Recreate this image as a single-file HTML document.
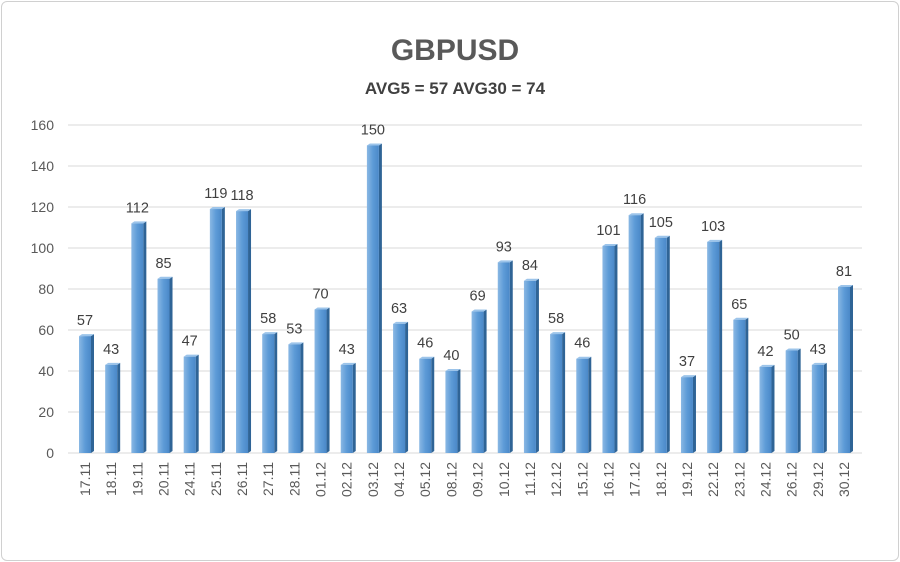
<!DOCTYPE html>
<html><head><meta charset="utf-8"><style>
body{margin:0;background:#fff;font-family:"Liberation Sans",sans-serif}
#frame{position:absolute;left:1px;top:1px;width:896px;height:558px;border:1px solid #d0d0d0;border-radius:6px}
</style></head><body>
<div id="frame"></div>
<svg id="c" width="900" height="562" style="position:absolute;left:0;top:0">
<defs>
<linearGradient id="g" x1="0" x2="1" y1="0" y2="0"><stop offset="0" stop-color="#8ab8e4"/><stop offset="0.5" stop-color="#5d9bd7"/><stop offset="1" stop-color="#4a88c8"/></linearGradient>
</defs>
<text x="455" y="60" text-anchor="middle" font-size="30" font-weight="bold" fill="#595959">GBPUSD</text>
<text x="455" y="94" text-anchor="middle" font-size="17" font-weight="bold" fill="#404040">AVG5 = 57 AVG30 = 74</text>
</svg>
<script>
const categories=["17.11","18.11","19.11","20.11","24.11","25.11","26.11","27.11","28.11","01.12","02.12","03.12","04.12","05.12","08.12","09.12","10.12","11.12","12.12","15.12","16.12","17.12","18.12","19.12","22.12","23.12","24.12","26.12","29.12","30.12"];
const values=[57,43,112,85,47,119,118,58,53,70,43,150,63,46,40,69,93,84,58,46,101,116,105,37,103,65,42,50,43,81];
const yTicks=[0,20,40,60,80,100,120,140,160];
const svg=document.getElementById('c');const NS='http://www.w3.org/2000/svg';
const y=v=>453-v*(328/160);
const x=i=>85+i*(759/29);
function mk(t,a,p){const e=document.createElementNS(NS,t);for(const k in a)e.setAttribute(k,a[k]);(p||svg).appendChild(e);return e;}
yTicks.forEach(t=>{
 const l=mk('line',{x1:68,x2:862,y1:y(t),y2:y(t),stroke:'#d9d9d9','stroke-width':1});
 
 
 const tx=mk('text',{x:54,y:y(t)+5,'text-anchor':'end','font-size':14,fill:'#595959'});tx.textContent=t;
 
 
});
values.forEach((v,i)=>{
 const cx=x(i),top=y(v),b=y(0);
 const g=mk('g',{});
 
 
 mk('polygon',{points:`${cx+6},${top} ${cx+9},${top-2} ${cx+9},${b-2} ${cx+6},${b}`,fill:'#2f6496'},g);
 mk('polygon',{points:`${cx-6},${top} ${cx-3},${top-2} ${cx+9},${top-2} ${cx+6},${top}`,fill:'#9cc4ea'},g);
 mk('rect',{x:cx-6,y:top,width:12,height:b-top,fill:'url(#g)'},g);
 const lb=mk('text',{x:cx,y:top-11,'text-anchor':'middle','font-size':14.5,fill:'#404040'});lb.textContent=v;
 
 
 const xl=mk('text',{x:0,y:0,'text-anchor':'end','font-size':14,fill:'#595959',transform:`translate(${cx+5},462) rotate(-90)`});xl.textContent=categories[i];
 
 
});
</script>
</body></html>
